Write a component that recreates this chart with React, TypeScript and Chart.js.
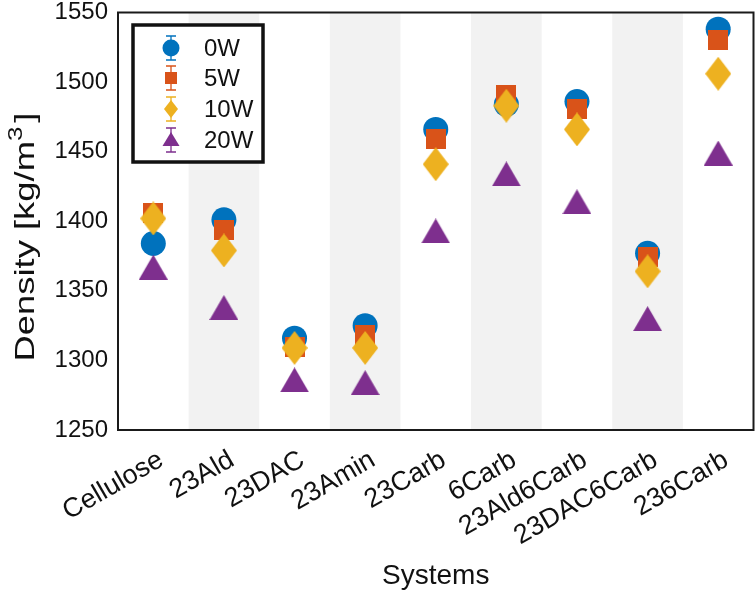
import React, { useEffect, useRef } from 'react';
import { Chart, registerables } from 'chart.js';

Chart.register(...registerables);

const categories = ['Cellulose', '23Ald', '23DAC', '23Amin', '23Carb', '6Carb', '23Ald6Carb', '23DAC6Carb', '236Carb'];
const seriesNames = ['0W', '5W', '10W', '20W'];
const density0W = [1384, 1401, 1316, 1325, 1466, 1484, 1486, 1377, 1538];
const density5W = [1406, 1394, 1310, 1318, 1459, 1491, 1481, 1374, 1530];
const density10W = [1402, 1379, 1309, 1309, 1441, 1483, 1466, 1364, 1506];
const density20W = [1367, 1338, 1286, 1284, 1393, 1434, 1414, 1330, 1449];
const yMin = 1250;
const yMax = 1550;
const yStep = 50;
const xTitle = 'Systems';
const yTitleMain = 'Density [kg/m';
const yTitleSup = '3';
const yTitleEnd = ']';

const COLORS = ['#0072BD', '#D95319', '#EDB120', '#7E2F8E'];
const FONT = "'Liberation Sans', Arial, Helvetica, sans-serif";
const W = 756;
const H = 593;
const CANVAS_W = 766;

function markerCanvas(kind: string, color: string, w: number, h: number) {
  const c = document.createElement('canvas');
  c.width = w;
  c.height = h;
  const ctx = c.getContext('2d')!;
  ctx.fillStyle = color;
  ctx.beginPath();
  if (kind === 'square') {
    ctx.rect(0, 0, w, h);
  } else if (kind === 'diamond') {
    ctx.moveTo(w / 2, 0);
    ctx.lineTo(w, h / 2);
    ctx.lineTo(w / 2, h);
    ctx.lineTo(0, h / 2);
    ctx.closePath();
  } else if (kind === 'triangle') {
    ctx.moveTo(w / 2, 0);
    ctx.lineTo(w, h);
    ctx.lineTo(0, h);
    ctx.closePath();
  }
  ctx.fill();
  return c;
}

function drawLegendMarker(ctx: CanvasRenderingContext2D, i: number, x: number, y: number) {
  const color = COLORS[i];
  ctx.save();
  ctx.strokeStyle = color;
  ctx.fillStyle = color;
  ctx.lineWidth = 1.3;
  ctx.beginPath();
  ctx.moveTo(x, y - 12);
  ctx.lineTo(x, y + 12);
  ctx.moveTo(x - 5, y - 12);
  ctx.lineTo(x + 5, y - 12);
  ctx.moveTo(x - 5, y + 12);
  ctx.lineTo(x + 5, y + 12);
  ctx.stroke();
  ctx.beginPath();
  if (i === 0) {
    ctx.arc(x, y, 8.5, 0, Math.PI * 2);
  } else if (i === 1) {
    ctx.rect(x - 6, y - 6, 12, 12);
  } else if (i === 2) {
    ctx.moveTo(x, y - 9);
    ctx.lineTo(x + 7, y);
    ctx.lineTo(x, y + 9);
    ctx.lineTo(x - 7, y);
    ctx.closePath();
  } else {
    ctx.moveTo(x, y - 8);
    ctx.lineTo(x + 8.5, y + 6);
    ctx.lineTo(x - 8.5, y + 6);
    ctx.closePath();
  }
  ctx.fill();
  ctx.restore();
}

const decorPlugin = {
  id: 'decor',
  beforeDatasetsDraw(chart: any) {
    const { ctx, chartArea } = chart;
    const xs = chart.scales.x;
    const half = (xs.getPixelForValue(1) - xs.getPixelForValue(0)) / 2;
    ctx.save();
    ctx.fillStyle = '#f2f2f2';
    categories.forEach((_, i) => {
      if (i % 2 === 1) {
        const cx = xs.getPixelForValue(i);
        ctx.fillRect(cx - half, chartArea.top, half * 2, chartArea.bottom - chartArea.top);
      }
    });
    ctx.restore();
  },
  afterDraw(chart: any) {
    const { ctx, chartArea } = chart;
    ctx.save();
    ctx.strokeStyle = '#1a1a1a';
    ctx.lineWidth = 2;
    ctx.strokeRect(chartArea.left, chartArea.top, chartArea.right - chartArea.left, chartArea.bottom - chartArea.top);

    const lx = 133, ly = 25, lw = 130, lh = 137;
    ctx.fillStyle = '#ffffff';
    ctx.fillRect(lx, ly, lw, lh);
    ctx.lineWidth = 3.5;
    ctx.strokeStyle = '#111111';
    ctx.strokeRect(lx, ly, lw, lh);
    const rows = [48, 78, 109, 140];
    seriesNames.forEach((name, i) => {
      drawLegendMarker(ctx, i, 171, rows[i]);
      ctx.fillStyle = '#111111';
      ctx.font = `24px ${FONT}`;
      ctx.textAlign = 'left';
      ctx.textBaseline = 'middle';
      ctx.fillText(name, 204, rows[i] + 1);
    });

    ctx.translate(24, 237);
    ctx.rotate(-Math.PI / 2);
    ctx.scale(1.3, 1);
    ctx.fillStyle = '#111111';
    ctx.textBaseline = 'alphabetic';
    ctx.textAlign = 'left';
    ctx.font = `28px ${FONT}`;
    const wMain = ctx.measureText(yTitleMain).width;
    ctx.font = `20px ${FONT}`;
    const wSup = ctx.measureText(yTitleSup).width;
    ctx.font = `28px ${FONT}`;
    const wEnd = ctx.measureText(yTitleEnd).width;
    const gap = 3;
    const total = wMain + wSup + gap + wEnd;
    let x = -total / 2;
    const base = 10;
    ctx.fillText(yTitleMain, x, base);
    x += wMain;
    ctx.font = `20px ${FONT}`;
    ctx.fillText(yTitleSup, x, base - 12);
    x += wSup + gap;
    ctx.font = `28px ${FONT}`;
    ctx.fillText(yTitleEnd, x, base);
    ctx.restore();
  },
};

export default function App() {
  const ref = useRef<HTMLCanvasElement>(null);

  useEffect(() => {
    const square = markerCanvas('square', COLORS[1], 20, 20);
    const diamond = markerCanvas('diamond', COLORS[2], 26, 34);
    const triangle = markerCanvas('triangle', COLORS[3], 29, 25);
    const seriesData = [density0W, density5W, density10W, density20W];
    const styles: any[] = ['circle', square, diamond, triangle];

    const chart = new Chart(ref.current!, {
      type: 'line',
      data: {
        labels: categories,
        datasets: seriesData.map((d, i) => ({
          label: seriesNames[i],
          data: d,
          showLine: false,
          pointStyle: styles[i],
          pointRadius: 12.5,
          pointHoverRadius: 12.5,
          pointBorderWidth: 0,
          pointBackgroundColor: COLORS[i],
          pointBorderColor: COLORS[i],
          borderColor: COLORS[i],
          backgroundColor: COLORS[i],
          order: 3 - i,
        })),
      },
      options: {
        animation: false,
        responsive: false,
        devicePixelRatio: 1,
        layout: { padding: { top: 10, right: 0, left: 0, bottom: 0 } },
        plugins: {
          legend: { display: false },
          tooltip: { enabled: false },
        },
        scales: {
          x: {
            type: 'category',
            offset: true,
            grid: { display: false },
            border: { display: false },
            ticks: {
              autoSkip: false,
              minRotation: 30,
              maxRotation: 30,
              padding: 6,
              labelOffset: 8,
              color: '#111111',
              font: { family: FONT, size: 27 },
            },
            title: {
              display: true,
              text: xTitle,
              color: '#111111',
              font: { family: FONT, size: 28 },
              padding: { top: 0, bottom: 0 },
            },
            afterFit(scale: any) {
              scale.height = 163;
              scale.paddingLeft = 0;
              scale.paddingRight = 0;
            },
          },
          y: {
            min: yMin,
            max: yMax,
            grid: { display: false },
            border: { display: false },
            ticks: {
              stepSize: yStep,
              padding: 2,
              color: '#111111',
              font: { family: FONT, size: 24 },
              callback: (v: any) => String(v),
            },
            afterFit(scale: any) {
              scale.width = 118;
              scale.paddingTop = 0;
              scale.paddingBottom = 0;
            },
          },
        },
      },
      plugins: [decorPlugin],
    });
    return () => chart.destroy();
  }, []);

  return (
    <div style={{ position: 'absolute', left: 0, top: 0, width: W, height: H, background: '#fff', overflow: 'hidden' }}>
      <canvas ref={ref} width={CANVAS_W} height={H} style={{ display: 'block', width: CANVAS_W, height: H }} />
    </div>
  );
}
